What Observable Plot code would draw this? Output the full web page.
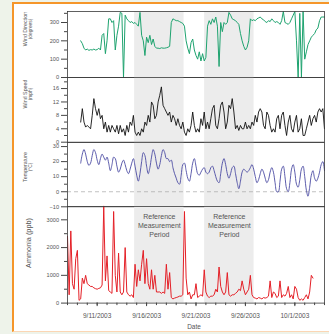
<!DOCTYPE html>
<html><head><meta charset="utf-8">
<script src="https://cdn.jsdelivr.net/npm/d3@7"></script>
<script src="https://cdn.jsdelivr.net/npm/@observablehq/plot@0.6"></script>
<style>
html,body{margin:0;padding:0;background:#eef3ea;}
#wrap{position:relative;width:329px;height:334px;overflow:hidden;font-family:"Liberation Sans",Arial,sans-serif;}
#frame{position:absolute;left:12px;top:2px;width:330px;height:330px;background:#fff;border-left:2px solid #f5962a;border-top:2px solid #f5962a;border-bottom:1px solid #fbd6b4;box-sizing:border-box;}
.panel{position:absolute;left:0;}
.ytitle{position:absolute;transform:translate(-50%,-50%) rotate(-90deg);white-space:nowrap;text-align:center;color:#555;line-height:6.5px;}
</style></head><body>
<div id="wrap"><div id="frame"></div></div>
<script>
// ---- data ----
const xStart = "2003-09-08T00:00Z";
const xEnd = "2003-10-04T00:00Z";
const metStart = "2003-09-09T08:00Z";
const ammoniaStart = "2003-09-08T00:00Z";
const stepHours = 4;

const bandStarts = ["2003-09-14T19:00Z", "2003-09-21T21:00Z"];
const bandEnds = ["2003-09-19T19:00Z", "2003-09-26T21:00Z"];
const bandLabel = "Reference\nMeasurement\nPeriod";

const dateTicks = ["2003-09-11T00:00Z", "2003-09-16T00:00Z", "2003-09-21T00:00Z", "2003-09-26T00:00Z", "2003-10-01T00:00Z"];

const windDirTicks = [0, 100, 200, 300];
const windDirMinor = [50, 150, 250, 350];
const windSpeedTicks = [0, 4, 8, 12, 16];
const windSpeedMinor = [2, 6, 10, 14, 18];
const tempTicks = [-10, 0, 10, 20, 30];
const tempMinor = [-5, 5, 15, 25];
const ammoniaTicks = [0, 1000, 2000, 3000];
const ammoniaMinor = [500, 1500, 2500];

const windDirection = [
200,185,160,150,155,148,152,150,155,150,
152,160,150,230,240,130,200,320,320,300,
310,150,230,280,355,350,0,340,320,310,
300,305,295,300,290,280,355,230,200,120,
220,190,230,180,210,170,160,160,158,162,
160,160,162,165,170,300,320,315,310,310,
305,300,295,280,200,160,130,190,210,150,
120,100,140,90,130,90,110,280,310,290,
320,300,330,280,60,300,250,300,290,300,
355,340,320,315,310,300,290,240,200,170,
150,165,200,320,310,315,310,320,325,330,
320,315,305,300,310,305,320,310,300,305,
300,290,310,360,300,295,290,300,320,340,
360,200,0,350,0,360,100,140,180,200,
220,230,240,260,270,310,330,330,330];

const windSpeed = [
6,10,6,4.5,5,4.5,4,8,13,10,
8,10,7,8,4,6,3,5,3,5,
4,3,5,2.5,5,3,4,2,5,3,
6,5,8,3,2,3,2,4,3,6,
5,8,6,12,11,7,8,12,14,16.5,
11,10,9,8,9,6,8,7,5,7,
5,4,6,3,2,4,3,5,9,5,
3,4,3,7,5,9,4,6,4,7,
10,11,5,4,7,11,12,9,4,6,
11,10,13,9,4,5,3.5,5,4,4,
6,4,5,4,6,5,8,6,9,10,
9,5,4,9,8,5,3,4,3,7,
8,4,8,9,5,2,6,8,4,3,
6,8,3,4,7,2,2,4,6,8,
5,7,8,6,9,10,9,10,4];

const temperature = [
19,25,28,25,20,17.5,19,24,28,26,
21,18,22,25,23,21,23,19,14,18,
23,22,17,13,15,19,21,18,14,12,
15,19,22,17,11,7,12,20,26,24,
17,12,16,23,28,25,19,15,18,24,
28,26,22,22,20,21,16,12,9,6,
5,11,18,19,14,9,7,12,19,22,
17,12,11,13,15,16,13,12,13,16,
17,14,10,7,6,12,19,22,18,12,
9,12,16,17,12,6,2,7,13,15,
14,13,14,16,18,15,10,6,8,12,
15,13,9,6,8,13,16,13,6,0,
0,7,15,17,10,2,0,6,15,18,
13,5,3,8,15,17,10,1,-3,3,
11,14,9,7,9,13,18,20,14];

const ammonia = [
2400,300,2600,700,500,1600,1900,100,150,900,
700,1000,700,650,600,600,550,520,500,530,
550,650,3500,800,1700,450,400,350,3300,1000,
400,1800,400,300,400,2000,400,300,250,300,
200,1400,600,1200,800,1400,1900,700,1600,700,
500,1200,500,1000,400,400,400,350,400,350,
1400,500,1100,200,150,180,200,220,250,250,
300,3300,900,300,400,150,300,300,700,200,
250,300,250,1200,400,250,200,250,250,300,
500,400,1300,600,400,300,400,1100,300,250,
300,300,350,400,500,450,800,500,300,400,
500,1000,300,200,180,150,200,180,150,200,
180,200,250,800,200,400,350,200,250,800,
200,300,250,350,600,200,300,150,600,500,
200,100,150,100,200,300,150,400,1000,900];

const axisTitles = [
  {lines: ["Wind Direction", "(degrees)"], sizes: [5.3, 4.8], cx: 28.3, cy: 29},
  {lines: ["Wind Speed", "(mph)"], sizes: [5.3, 4.8], cx: 28.3, cy: 94},
  {lines: ["Temperature", "(°C)"], sizes: [5.3, 4.8], cx: 28.3, cy: 167},
  {lines: ["Ammonia (ppb)"], sizes: [7.3], cx: 29, cy: 243}
];

// ---- build ----
const xDomain = [new Date(xStart), new Date(xEnd)];
function series(start, values) {
  const t0 = +new Date(start);
  return values.map((v, i) => ({t: new Date(t0 + i * stepHours * 3600e3), v}));
}
const bands = bandStarts.map((s, i) => ({s: new Date(s), e: new Date(bandEnds[i])}));
const FONT = '"Liberation Sans", Arial, sans-serif';
const TXT = "#555555";
const wrap = document.getElementById("wrap");

function panel(o) {
  const marks = [
    Plot.rect(bands, {x1: "s", x2: "e", fill: "#ececec"}),
    ...(o.before || []),
    Plot.line(o.data, {x: "t", y: "v", stroke: o.color, strokeWidth: o.sw || 0.9, curve: o.curve || "linear"}),
    Plot.axisY(o.minor, {tickSize: 3, tickFormat: () => "", stroke: "#444", label: null}),
    Plot.axisY(o.ticks, {tickSize: 6, tickPadding: 2.5, fontSize: 5.6, fill: TXT, stroke: "#444", label: null, tickFormat: d3.format("d")}),
    Plot.frame({stroke: "#3a3a3a", strokeWidth: 0.8}),
    ...(o.after || [])
  ];
  const chart = Plot.plot({
    width: 329,
    height: o.marginTop + o.inner + o.marginBottom,
    marginLeft: 67, marginRight: 5,
    marginTop: o.marginTop, marginBottom: o.marginBottom,
    x: {type: "utc", domain: xDomain, axis: null},
    y: {domain: o.yDomain, axis: null},
    style: {background: "transparent", overflow: "visible", fontFamily: FONT},
    marks
  });
  chart.classList.add("panel");
  chart.style.top = o.top + "px";
  chart.style.position = "absolute";
  wrap.appendChild(chart);
}

panel({top: 0, marginTop: 11, inner: 66, marginBottom: 4, yDomain: [0, 360],
  ticks: windDirTicks, minor: windDirMinor, data: series(metStart, windDirection),
  color: "#1ea36f", sw: 1});

panel({top: 71, marginTop: 6, inner: 64.7, marginBottom: 4, yDomain: [0, 19.3],
  ticks: windSpeedTicks, minor: windSpeedMinor, data: series(metStart, windSpeed),
  color: "#111"});

panel({top: 135.7, marginTop: 6, inner: 64.3, marginBottom: 4, yDomain: [-10, 32.7],
  ticks: tempTicks, minor: tempMinor, data: series(metStart, temperature),
  color: "#4b4ba3", curve: "catmull-rom",
  before: [Plot.ruleY([0], {stroke: "#a8a8a8", strokeWidth: 0.7, strokeDasharray: "4,3"})]});

const dayTicks = d3.utcDay.range(xDomain[0], d3.utcDay.offset(xDomain[1], 1));
panel({top: 199.7, marginTop: 6, inner: 96.6, marginBottom: 34, yDomain: [0, 3480],
  ticks: ammoniaTicks, minor: ammoniaMinor, data: series(ammoniaStart, ammonia),
  color: "#e41f26", sw: 1,
  after: [
    Plot.axisX(dayTicks, {tickSize: 2.5, tickFormat: () => "", stroke: "#444", label: null}),
    Plot.axisX(dateTicks.map(d => new Date(d)), {tickSize: 3.5, tickPadding: 7, fontSize: 6.5, fill: TXT, stroke: "#444", tickFormat: d3.utcFormat("%-m/%-d/%Y"), label: null}),
    Plot.text(["Date"], {frameAnchor: "bottom", dx: -2, dy: 25.5, fontSize: 6.5, fill: TXT, text: d => d}),
    Plot.text(bands, {x: d => new Date((+d.s + +d.e) / 2), text: () => bandLabel, frameAnchor: "top", dy: 6, lineAnchor: "top", fontSize: 7, lineHeight: 1.3, fill: TXT})
  ]});

for (const t of axisTitles) {
  const div = document.createElement("div");
  div.className = "ytitle";
  div.style.left = t.cx + "px";
  div.style.top = t.cy + "px";
  t.lines.forEach((line, i) => {
    const s = document.createElement("div");
    s.textContent = line;
    s.style.fontSize = t.sizes[i] + "px";
    s.style.lineHeight = (t.lines.length > 1 ? 6.2 : 8) + "px";
    div.appendChild(s);
  });
  wrap.appendChild(div);
}
</script>
</body></html>
